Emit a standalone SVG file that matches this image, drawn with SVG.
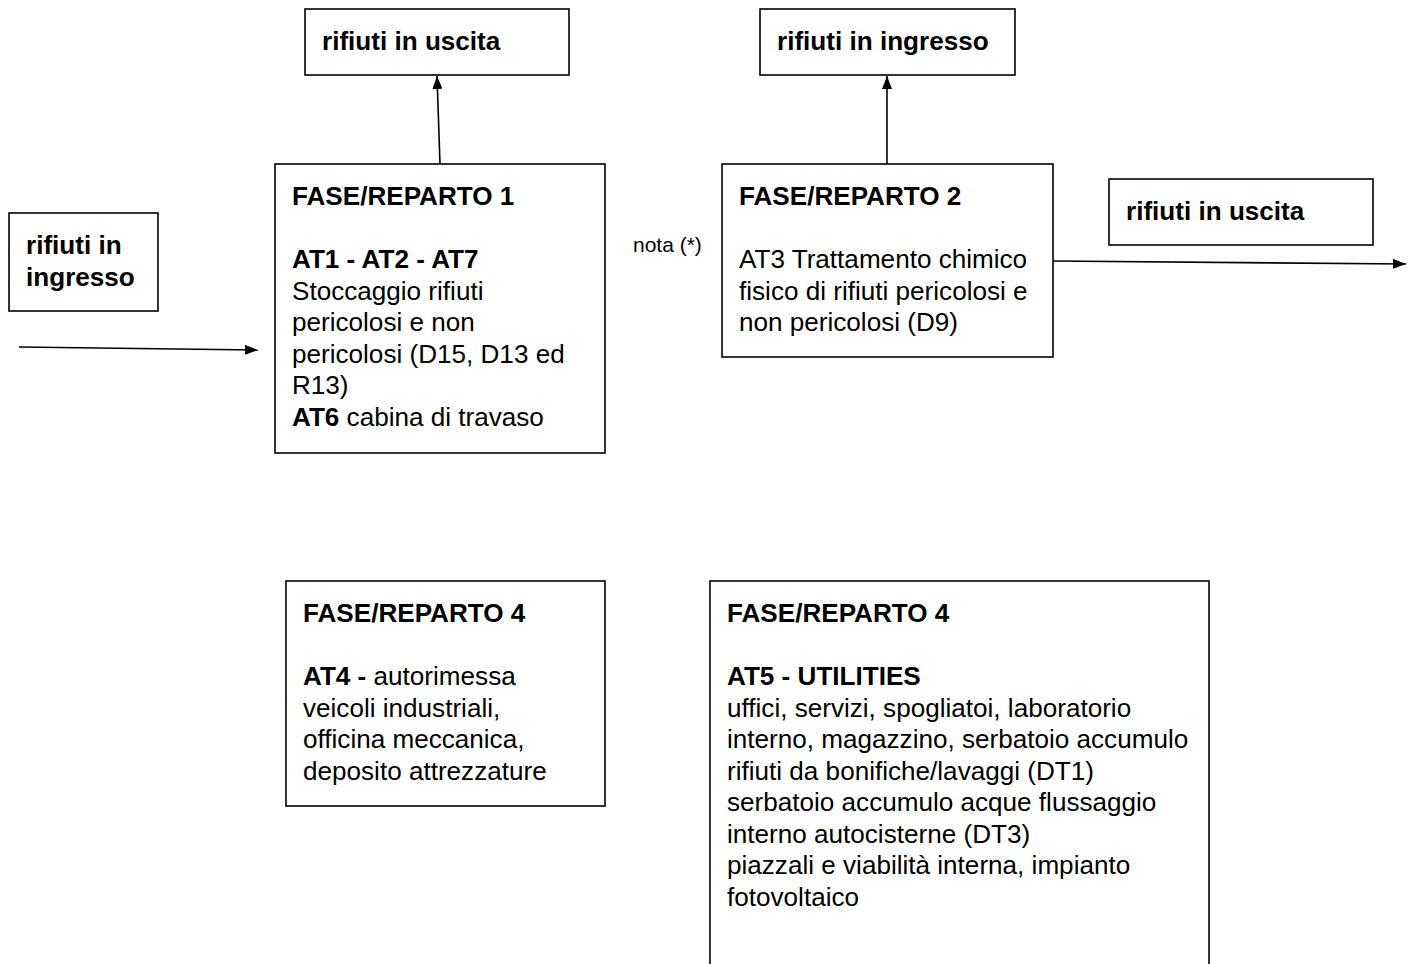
<svg xmlns="http://www.w3.org/2000/svg" width="1410" height="964" viewBox="0 0 1410 964">
<defs>
<style>
.box{fill:#fff;stroke:#000;stroke-width:1.6}
.t{font-family:"Liberation Sans",Arial,sans-serif;font-size:26.1px;fill:#000}
.b{font-weight:bold}
.conn{stroke:#000;stroke-width:1.6;fill:none}
.note{font-family:"Liberation Sans",Arial,sans-serif;font-size:21px;fill:#000}
</style>
<marker id="arr" markerUnits="userSpaceOnUse" markerWidth="14" markerHeight="10" refX="13" refY="5" orient="auto">
<path d="M0,0 L13,5 L0,10 Z" fill="#000"/>
</marker>
</defs>
<rect width="1410" height="964" fill="#fff"/>
<g id="connectors">
<line class="conn" x1="19" y1="347" x2="258" y2="350" marker-end="url(#arr)"/>
<line class="conn" x1="440" y1="164" x2="437" y2="76" marker-end="url(#arr)"/>
<line class="conn" x1="887" y1="164" x2="887" y2="76" marker-end="url(#arr)"/>
<line class="conn" x1="1053" y1="261" x2="1406" y2="264" marker-end="url(#arr)"/>
</g>
<g id="in-left">
<rect class="box" x="9" y="213" width="149" height="98"/>
<text class="t b" x="26" y="254">rifiuti in</text>
<text class="t b" x="26" y="286">ingresso</text>
</g>
<g id="out-top">
<rect class="box" x="305" y="9" width="264" height="66"/>
<text class="t b" x="322" y="50">rifiuti in uscita</text>
</g>
<g id="in-top">
<rect class="box" x="760" y="9" width="255" height="66"/>
<text class="t b" x="777" y="50">rifiuti in ingresso</text>
</g>
<g id="out-right">
<rect class="box" x="1109" y="179" width="264" height="66"/>
<text class="t b" x="1126" y="220">rifiuti in uscita</text>
</g>
<g id="fase1">
<rect class="box" x="275" y="164" width="330" height="289"/>
<text class="t b" x="292" y="205">FASE/REPARTO 1</text>
<text class="t b" x="292" y="268">AT1 - AT2 - AT7</text>
<text class="t" x="292" y="300">Stoccaggio rifiuti</text>
<text class="t" x="292" y="331">pericolosi e non</text>
<text class="t" x="292" y="363">pericolosi (D15, D13 ed</text>
<text class="t" x="292" y="394">R13)</text>
<text class="t" x="292" y="426"><tspan class="b">AT6</tspan> cabina di travaso</text>
</g>
<g id="nota">
<text class="note" x="633" y="252">nota (*)</text>
</g>
<g id="fase2">
<rect class="box" x="722" y="164" width="331" height="193"/>
<text class="t b" x="739" y="205">FASE/REPARTO 2</text>
<text class="t" x="739" y="268">AT3 Trattamento chimico</text>
<text class="t" x="739" y="300">fisico di rifiuti pericolosi e</text>
<text class="t" x="739" y="331">non pericolosi (D9)</text>
</g>
<g id="fase4a">
<rect class="box" x="286" y="581" width="319" height="225"/>
<text class="t b" x="303" y="622">FASE/REPARTO 4</text>
<text class="t" x="303" y="685"><tspan class="b">AT4 -</tspan> autorimessa</text>
<text class="t" x="303" y="717">veicoli industriali,</text>
<text class="t" x="303" y="748">officina meccanica,</text>
<text class="t" x="303" y="780">deposito attrezzature</text>
</g>
<g id="fase4b">
<rect class="box" x="710" y="581" width="499" height="400"/>
<text class="t b" x="727" y="622">FASE/REPARTO 4</text>
<text class="t b" x="727" y="685">AT5 - UTILITIES</text>
<text class="t" x="727" y="717">uffici, servizi, spogliatoi, laboratorio</text>
<text class="t" x="727" y="748">interno, magazzino, serbatoio accumulo</text>
<text class="t" x="727" y="780">rifiuti da bonifiche/lavaggi (DT1)</text>
<text class="t" x="727" y="811">serbatoio accumulo acque flussaggio</text>
<text class="t" x="727" y="843">interno autocisterne (DT3)</text>
<text class="t" x="727" y="874">piazzali e viabilità interna, impianto</text>
<text class="t" x="727" y="906">fotovoltaico</text>
</g>
</svg>
